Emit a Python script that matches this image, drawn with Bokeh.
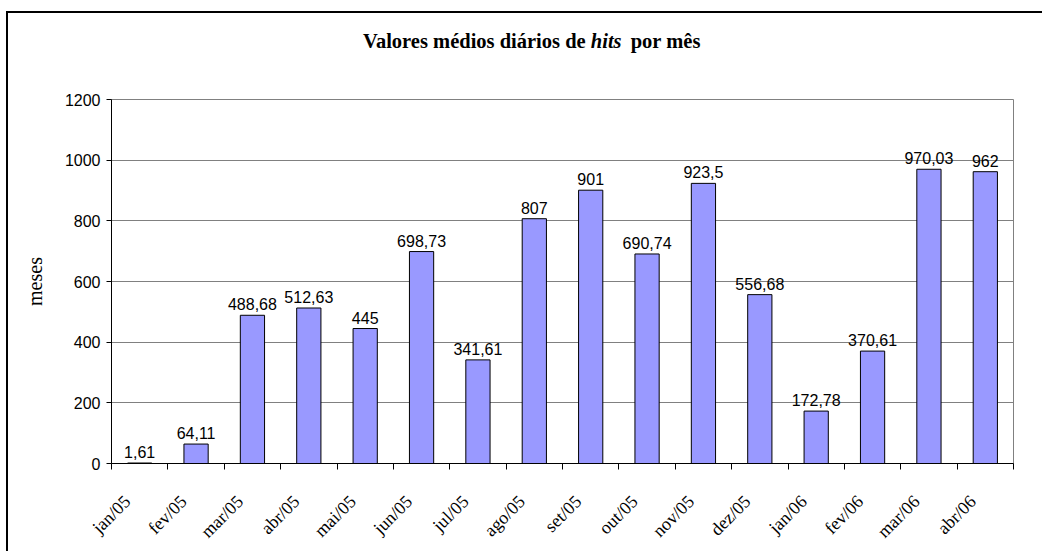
import math
from bokeh.plotting import figure
from bokeh.models import ColumnDataSource, FixedTicker, Range1d, Div
from bokeh.layouts import column
from bokeh.core.properties import value
from bokeh.embed import file_html
from bokeh.resources import INLINE

# ---- data ----
months = ["jan/05", "fev/05", "mar/05", "abr/05", "mai/05", "jun/05", "jul/05", "ago/05",
          "set/05", "out/05", "nov/05", "dez/05", "jan/06", "fev/06", "mar/06", "abr/06"]
hits = [1.61, 64.11, 488.68, 512.63, 445, 698.73, 341.61, 807,
        901, 690.74, 923.5, 556.68, 172.78, 370.61, 970.03, 962]
y_ticks = [0, 200, 400, 600, 800, 1000, 1200]

title_start = "Valores médios diários de"
title_italic = "hits"
title_end = "por mês"
y_label = "meses"

# ---- derived ----
n = len(months)
centers = [i + 0.5 for i in range(n)]
labels = [f"{v:g}".replace(".", ",") for v in hits]
src = ColumnDataSource(dict(x=centers, top=hits, label=labels))

p = figure(width=1034, height=472, output_backend="svg", toolbar_location=None,
           x_range=Range1d(0, n), y_range=Range1d(0, 1200), margin=0,
           min_border_left=103, min_border_right=29, min_border_top=20, min_border_bottom=87)
p.background_fill_color = "white"
p.border_fill_color = "white"
p.outline_line_color = "#808080"
p.outline_line_width = 1

p.vbar(x="x", top="top", bottom=0, width=0.43, source=src,
       fill_color="#9999FF", line_color="black", line_width=1)
p.text(x="x", y="top", text="label", source=src, text_align="center",
       text_baseline="alphabetic", y_offset=-11,
       text_font=value("Liberation Sans"), text_font_size="16px", text_color="black")

# x axis: labels at (slightly left of) category centres, ticks at category boundaries
label_shift = 0.22
label_pos = [c - label_shift for c in centers]
xa = p.xaxis[0]
xa.ticker = FixedTicker(ticks=label_pos, minor_ticks=list(range(n + 1)))
xa.major_label_overrides = {c: m for c, m in zip(label_pos, months)}
xa.major_tick_out = 0
xa.major_tick_in = 0
xa.minor_tick_out = 6
xa.minor_tick_in = 0
xa.minor_tick_line_color = "black"
xa.axis_line_color = "black"
xa.major_label_orientation = math.pi / 4
xa.major_label_standoff = 29
xa.major_label_text_font = "Liberation Serif"
xa.major_label_text_font_size = "18px"
xa.major_label_text_color = "black"

# y axis
ya = p.yaxis[0]
ya.ticker = FixedTicker(ticks=y_ticks)
ya.minor_tick_line_color = None
ya.major_tick_out = 5
ya.major_tick_in = 0
ya.major_tick_line_color = "black"
ya.axis_line_color = "black"
ya.major_label_standoff = 6
ya.major_label_text_font = "Liberation Sans"
ya.major_label_text_font_size = "16px"
ya.major_label_text_color = "black"
ya.axis_label = y_label
ya.axis_label_text_font = "Liberation Serif"
ya.axis_label_text_font_style = "normal"
ya.axis_label_text_font_size = "20px"
ya.axis_label_text_color = "black"
ya.axis_label_standoff = 16

p.xgrid.grid_line_color = None
p.ygrid.grid_line_color = "#808080"
p.ygrid.grid_line_width = 1

# title (bold, with the word "hits" in italics)
title_html = (
    '<div style="padding:18px 0 0 355px; font-family:\'Liberation Serif\'; '
    'font-weight:bold; font-size:20.5px; line-height:20px; white-space:nowrap; color:#000">'
    f'{title_start} <i style="padding-right:4px">{title_italic}</i> {title_end}</div>'
)
title_div = Div(text=title_html, width=1034, height=66, margin=0)

layout = column(title_div, p, margin=(11, 0, 0, 6), spacing=0,
                styles={"border-top": "2px solid #000", "border-left": "2px solid #000",
                        "background-color": "white"})

open("out.html", "w").write(file_html(layout, INLINE))
